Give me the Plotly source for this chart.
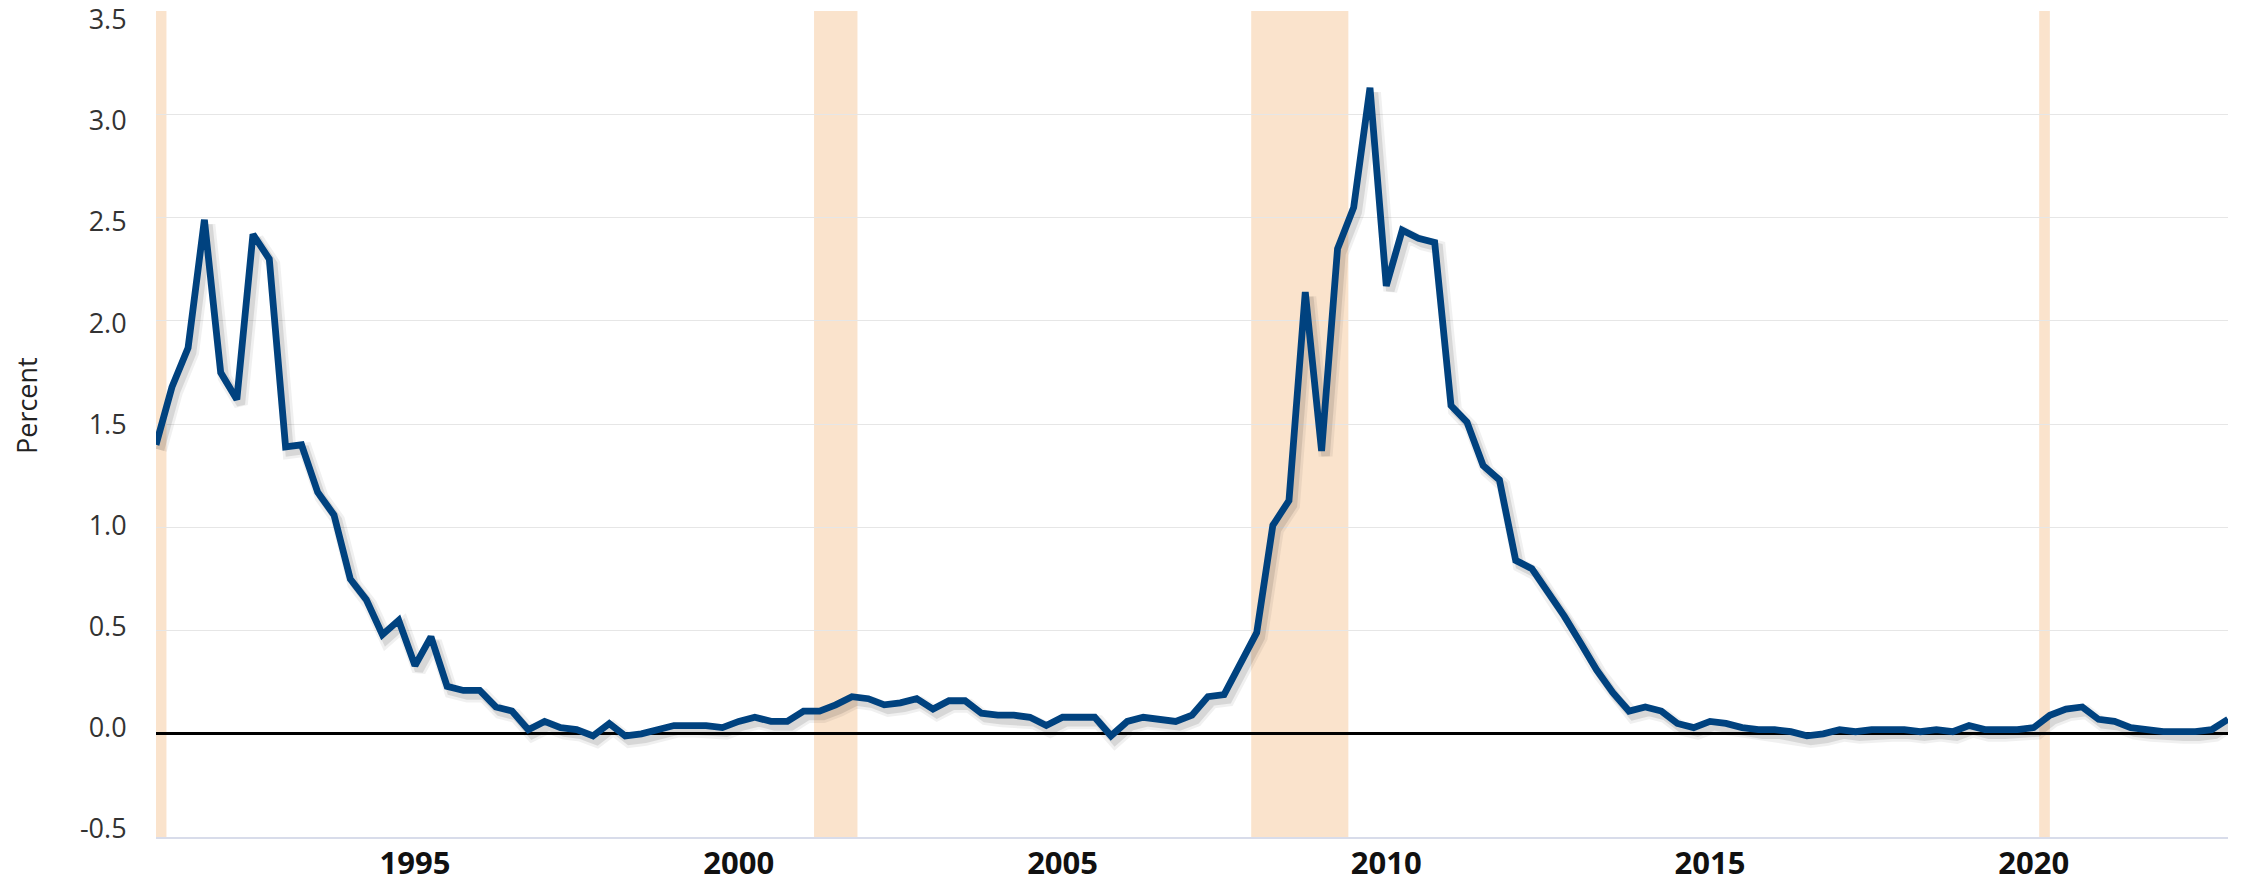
import pandas as pd
import plotly.graph_objects as go

# ---- data (quarterly, percent) ----
start_date = "1991-01-01"
values = [
    1.40, 1.68, 1.87, 2.49,   # 1991
    1.75, 1.62, 2.42, 2.30,   # 1992
    1.39, 1.40, 1.17, 1.06,   # 1993
    0.75, 0.65, 0.48, 0.55,   # 1994
    0.33, 0.47, 0.23, 0.21,   # 1995
    0.21, 0.13, 0.11, 0.02,   # 1996
    0.06, 0.03, 0.02, -0.01,  # 1997
    0.05, -0.01, 0.00, 0.02,  # 1998
    0.04, 0.04, 0.04, 0.03,   # 1999
    0.06, 0.08, 0.06, 0.06,   # 2000
    0.11, 0.11, 0.14, 0.18,   # 2001
    0.17, 0.14, 0.15, 0.17,   # 2002
    0.12, 0.16, 0.16, 0.10,   # 2003
    0.09, 0.09, 0.08, 0.04,   # 2004
    0.08, 0.08, 0.08, -0.01,  # 2005
    0.06, 0.08, 0.07, 0.06,   # 2006
    0.09, 0.18, 0.19, 0.34,   # 2007
    0.49, 1.01, 1.13, 2.14,   # 2008
    1.37, 2.35, 2.55, 3.13,   # 2009
    2.17, 2.44, 2.40, 2.38,   # 2010
    1.59, 1.51, 1.30, 1.23,   # 2011
    0.84, 0.80, 0.69, 0.57,   # 2012
    0.44, 0.31, 0.20, 0.11,   # 2013
    0.13, 0.11, 0.05, 0.03,   # 2014
    0.06, 0.05, 0.03, 0.02,   # 2015
    0.02, 0.01, -0.01, 0.00,  # 2016
    0.02, 0.01, 0.02, 0.02,   # 2017
    0.02, 0.01, 0.02, 0.01,   # 2018
    0.04, 0.02, 0.02, 0.02,   # 2019
    0.03, 0.09, 0.12, 0.13,   # 2020
    0.07, 0.06, 0.03, 0.02,   # 2021
    0.01, 0.01, 0.01, 0.02,   # 2022
    0.07,                     # 2023
]
dates = pd.date_range(start_date, periods=len(values), freq="QS")

recession_starts = ["1990-07-01", "2001-03-01", "2007-12-01", "2020-02-01"]
recession_ends = ["1991-03-01", "2001-11-01", "2009-06-01", "2020-04-01"]

tick_years = [1995, 2000, 2005, 2010, 2015, 2020]
y_ticks = [-0.5, 0.0, 0.5, 1.0, 1.5, 2.0, 2.5, 3.0, 3.5]
y_title = "Percent"

# ---- layout geometry ----
W, H = 2245, 882
ML, MR, MT, MB = 156, 17, 11, 45
x_range = [pd.Timestamp("1991-01-01"), pd.Timestamp("2023-01-01")]
y_range = [-0.5, 3.5015]
# tick-label scale in the original is slightly tighter than the grid
label_range = [-0.5396, 3.543]

plot_w = W - ML - MR
plot_h = H - MT - MB
days_span = (x_range[1] - x_range[0]).days
shadow_dx_px, shadow_dy_px = 4, 5
dx = pd.Timedelta(days=days_span * shadow_dx_px / plot_w)
dy = (y_range[1] - y_range[0]) * shadow_dy_px / plot_h

LINE_COLOR = "#00427f"
SHADE_COLOR = "#fae3cc"

fig = go.Figure()

# shadow (same data, drawn on an overlay axis offset by a few pixels)
fig.add_trace(go.Scatter(
    x=dates, y=values, mode="lines",
    line=dict(color="rgba(0,0,0,0.06)", width=14),
    xaxis="x2", yaxis="y2", hoverinfo="skip", showlegend=False,
))
fig.add_trace(go.Scatter(
    x=dates, y=values, mode="lines",
    line=dict(color="rgba(0,0,0,0.10)", width=8.5),
    xaxis="x2", yaxis="y2", hoverinfo="skip", showlegend=False,
))
# main line
fig.add_trace(go.Scatter(
    x=dates, y=values, mode="lines",
    line=dict(color=LINE_COLOR, width=6.8),
    xaxis="x3", yaxis="y3", showlegend=False,
))
# invisible trace carrying the y tick-label axis
fig.add_trace(go.Scatter(
    x=[dates[0]], y=[None], mode="lines", xaxis="x3", yaxis="y4",
    hoverinfo="skip", showlegend=False,
))

for s, e in zip(recession_starts, recession_ends):
    fig.add_shape(type="rect", xref="x", yref="paper", x0=s, x1=e, y0=0, y1=1,
                  fillcolor=SHADE_COLOR, line=dict(width=0), layer="below")

fig.update_layout(
    width=W, height=H, autosize=False,
    margin=dict(l=ML, r=MR, t=MT, b=MB, pad=0, autoexpand=False),
    paper_bgcolor="white", plot_bgcolor="white",
    font=dict(family="Open Sans", color="#333333"),
    showlegend=False,
    xaxis=dict(
        type="date", range=x_range, automargin=False,
        tickvals=[pd.Timestamp(f"{y}-01-01") for y in tick_years],
        ticktext=[str(y) for y in tick_years],
        tickfont=dict(family="Open Sans", size=31, color="#111111", weight="bold"),
        showgrid=False, zeroline=False,
        showline=True, linecolor="#d8dcea", linewidth=2,
        ticks="", ticklabelstandoff=-2,
    ),
    yaxis=dict(
        range=y_range, tickvals=y_ticks, automargin=False,
        showticklabels=False,
        showgrid=True, gridcolor="#e6e6e6", gridwidth=1,
        zeroline=True, zerolinecolor="#000000", zerolinewidth=2.5,
        showline=False, ticks="",
    ),
    yaxis4=dict(
        range=label_range, tickvals=y_ticks, overlaying="y", side="left",
        automargin=False, ticklabeloverflow="allow",
        ticktext=[f"{v:.1f}" for v in y_ticks],
        tickfont=dict(family="Open Sans", size=27, color="#333333"),
        showgrid=False, zeroline=False, showline=False,
        ticks="outside", ticklen=23, tickcolor="rgba(0,0,0,0)",
    ),
    xaxis2=dict(type="date", range=[x_range[0] - dx, x_range[1] - dx],
                overlaying="x", visible=False),
    yaxis2=dict(range=[y_range[0] + dy, y_range[1] + dy],
                overlaying="y", visible=False),
    xaxis3=dict(type="date", range=x_range, overlaying="x", visible=False),
    yaxis3=dict(range=y_range, overlaying="y", visible=False),
)

fig.add_annotation(
    text=y_title, xref="paper", yref="paper",
    x=(26 - ML) / plot_w, y=(H - MB - 406) / plot_h,
    xanchor="center", yanchor="middle", textangle=-90, showarrow=False,
    font=dict(family="Open Sans", size=27, color="#222222"),
)

fig.write_html(
    "out.html",
    config={"displayModeBar": False},
    post_script="document.body.style.margin='0';document.body.style.overflow='hidden';",
)
